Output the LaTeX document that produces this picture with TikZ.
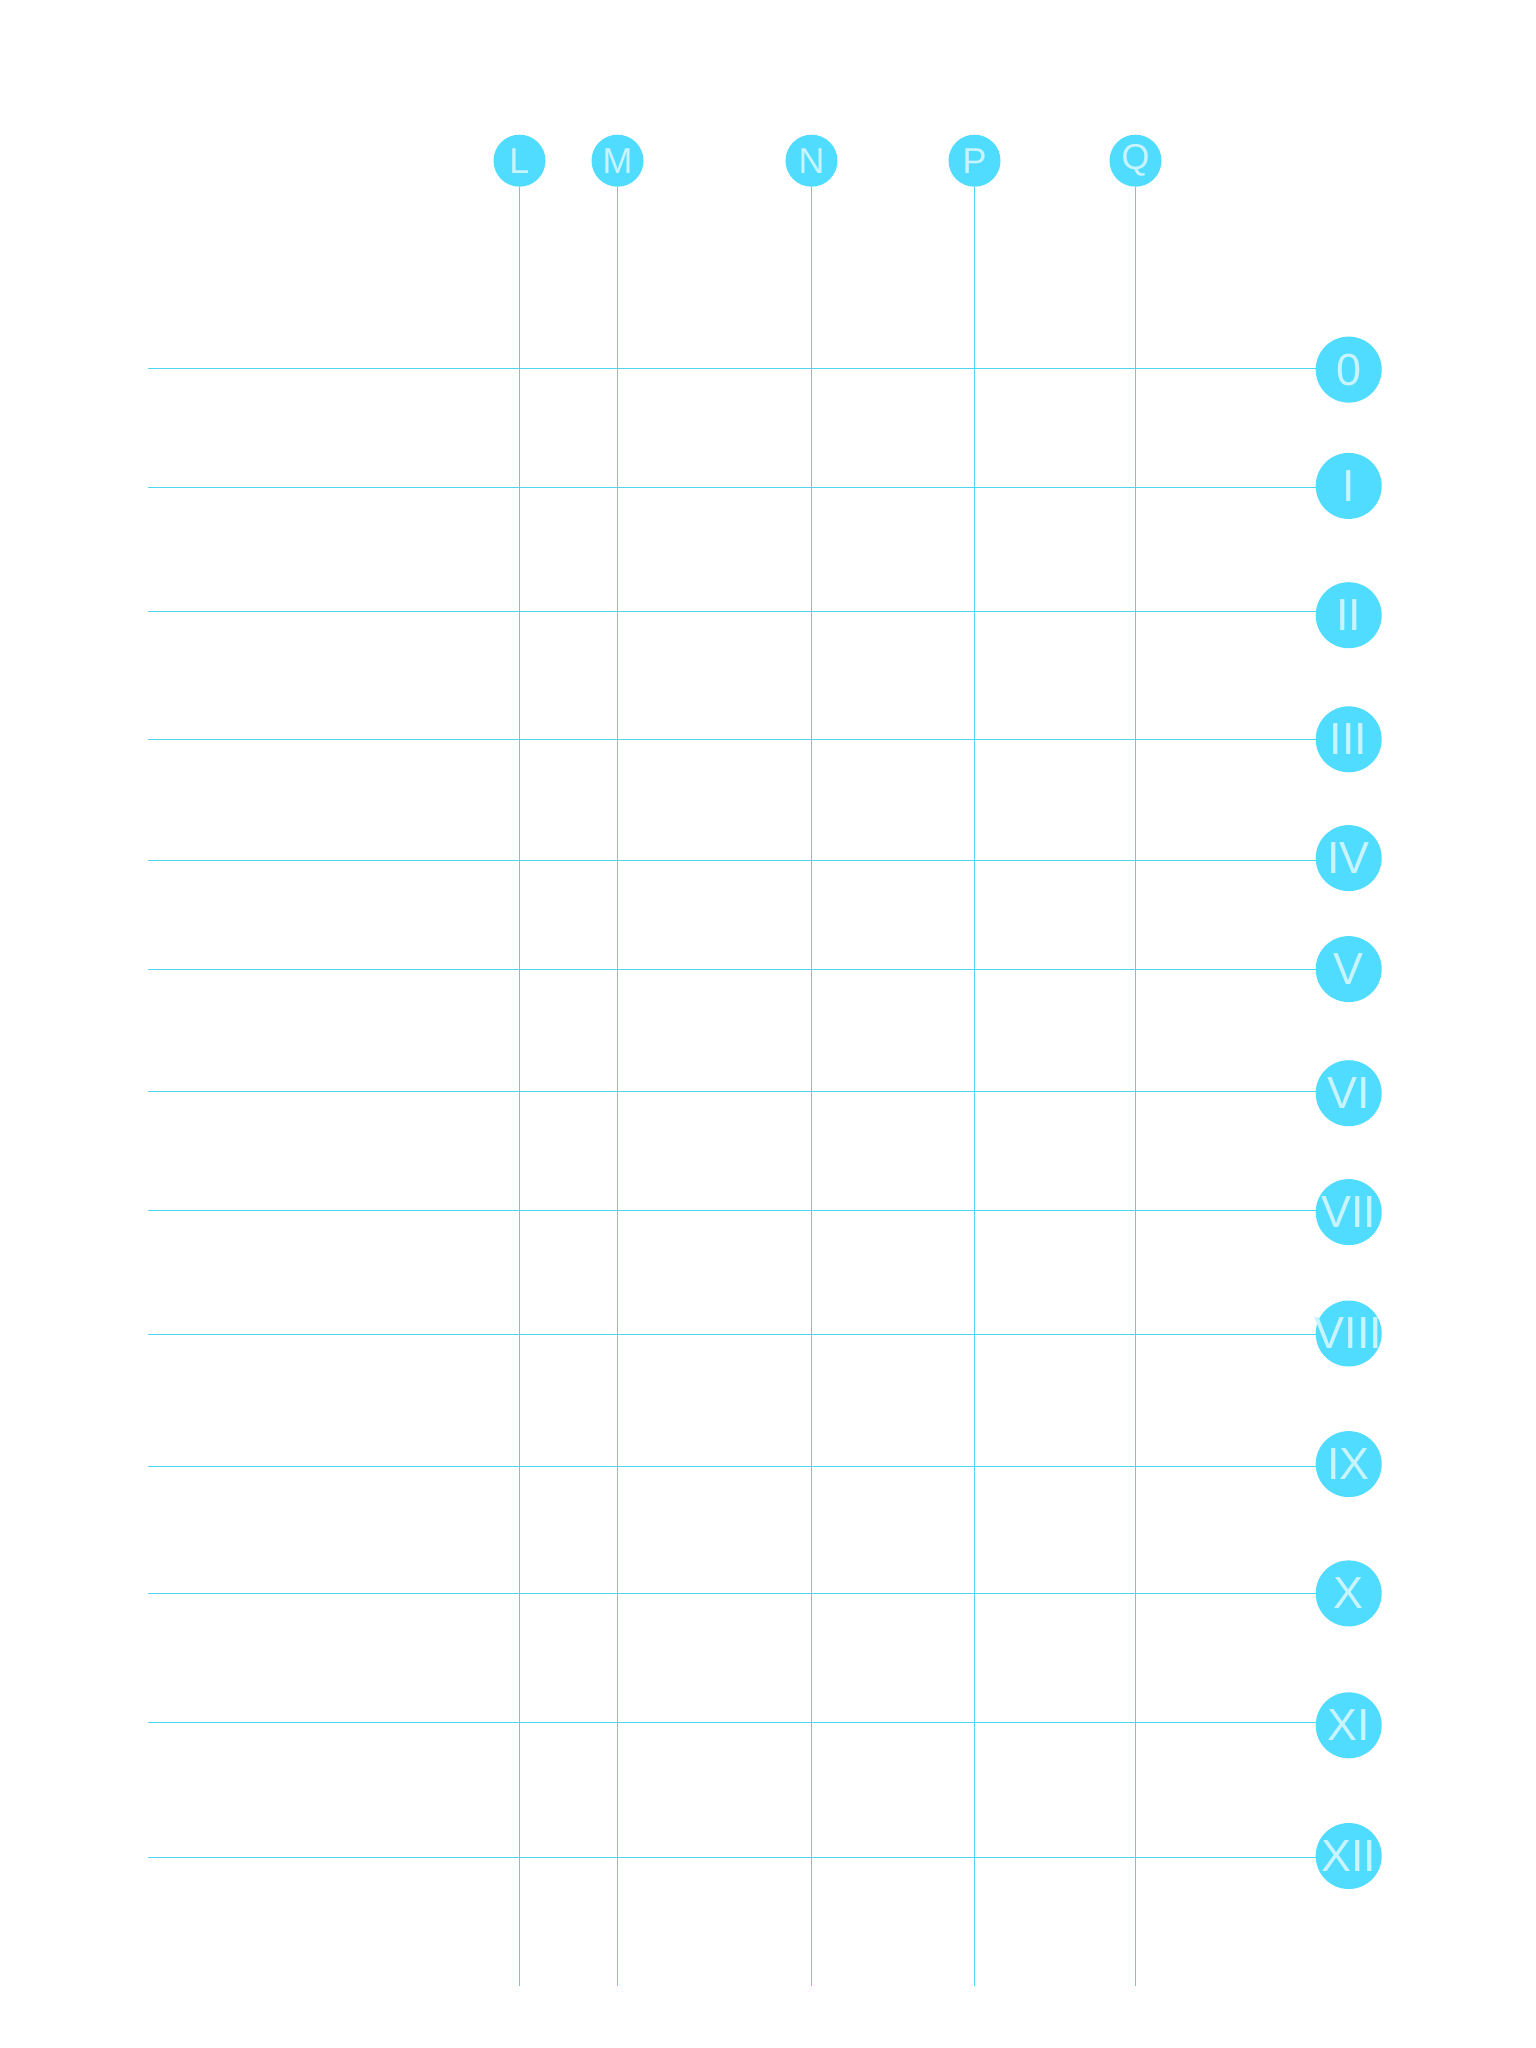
\documentclass[tikz,border=0pt]{standalone}
\usepackage{fontspec}
\setmainfont{Liberation Sans}
\definecolor{cfill}{RGB}{80,220,255}
\definecolor{ctext}{RGB}{200,244,255}
\definecolor{cline}{RGB}{80,212,242}
\begin{document}
\begin{tikzpicture}[x=1pt,y=-1pt,
  topcirc/.style={circle,fill=cfill,draw=none,minimum size=52pt,inner sep=0pt,text=ctext,font=\fontsize{36}{36}\selectfont},
  rowcirc/.style={circle,fill=cfill,draw=none,minimum size=66pt,inner sep=0pt,text=ctext,font=\fontsize{45}{45}\selectfont},
  gridline/.style={draw=cline,line width=1.2pt}]
\useasboundingbox[fill=white] (0,0) rectangle (1536,2048);
% columns
\foreach \n/\x in {L/519.5,M/617.5,N/811.5,P/974.5,Q/1135.5}{
  \node[topcirc] (t\n) at (\x,160.7) {\raisebox{-4pt}{\n}};
  \coordinate (b\n) at (\x,1986);
  \draw[gridline] (t\n.south) -- (b\n);
}
% rows
\foreach \i/\lab/\ly/\cy in {0/0/368.5/369.6,1/I/487.5/485.9,2/II/611.5/615.2,3/III/739.5/739.3,4/IV/860.5/858.1,5/V/969.5/969.1,6/VI/1091.5/1093.2,7/VII/1210.5/1212.1,8/VIII/1334.5/1333.5,9/IX/1466.5/1464.1,10/X/1593.5/1593.4,11/XI/1722.5/1725.3,12/XII/1857.5/1856.0}{
  \node[rowcirc] (r\i) at (1348.7,\cy) {\makebox[0pt][c]{\raisebox{-1.5pt}{\lab}}};
  \coordinate (h\i) at (148,\ly);
  \draw[gridline] (h\i) -- (h\i -| r\i.west);
}
\end{tikzpicture}
\end{document}
